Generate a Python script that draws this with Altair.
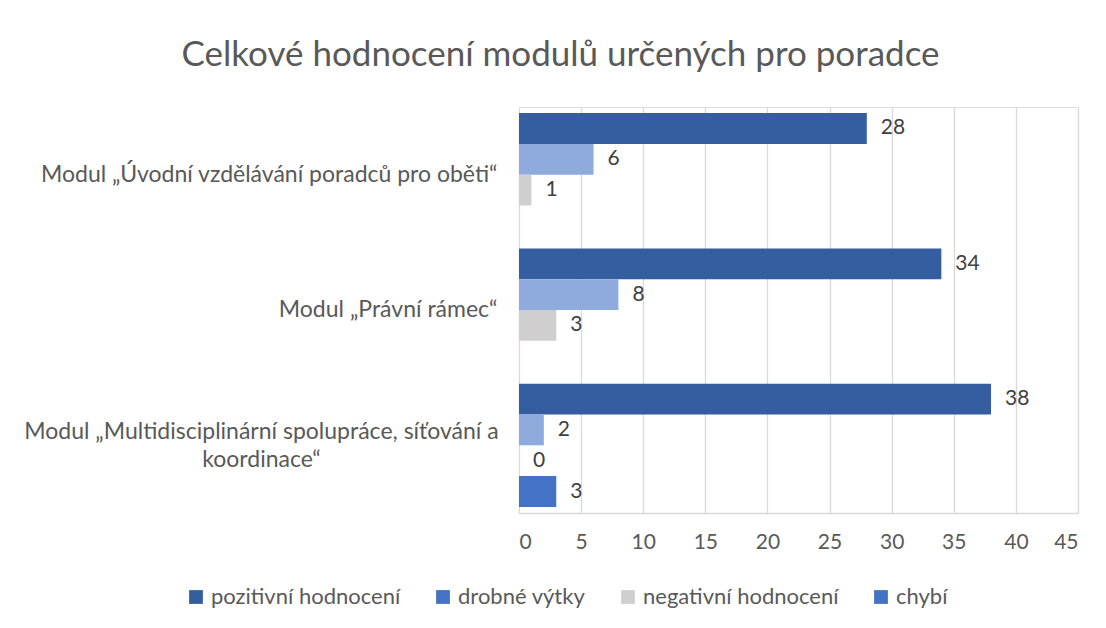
import altair as alt
import pandas as pd

categories = [
    "Modul „Úvodní vzdělávání poradců pro oběti“",
    "Modul „Právní rámec“",
    "Modul „Multidisciplinární spolupráce, síťování a|koordinace“",
]
series = ["pozitivní hodnocení", "drobné výtky", "negativní hodnocení", "chybí"]
pozitivni = [28, 34, 38]
drobne = [6, 8, 2]
negativni = [1, 3, 0]
chybi = [None, None, 3]

bar_colors = ["#355EA0", "#8FAADC", "#D0CECE", "#4472C4"]
legend_colors = ["#355EA0", "#4472C4", "#D0CECE", "#4472C4"]

rows = []
for i, c in enumerate(categories):
    for s, vals in zip(series, [pozitivni, drobne, negativni, chybi]):
        rows.append({"modul": c, "serie": s, "hodnota": vals[i]})
df = pd.DataFrame(rows)

FONT = "Lato"
TXT = "#595959"

wrapped = "indexof(datum.value, '|') >= 0"

y_enc = alt.Y(
    "modul:N",
    sort=categories,
    title=None,
    scale=alt.Scale(paddingInner=0.09, paddingOuter=0.045),
    axis=alt.Axis(
        domain=False,
        ticks=False,
        labelPadding={"condition": {"test": wrapped, "value": 258}, "value": 22},
        labelAlign={"condition": {"test": wrapped, "value": "center"}, "value": "right"},
        labelOffset={"condition": {"test": wrapped, "value": -13}, "value": 0},
        labelFont=FONT,
        labelFontSize=23,
        labelColor=TXT,
        labelLimit=700,
        labelExpr="split(datum.label, '|')",
        labelLineHeight=28,
    ),
)
yoff = alt.YOffset("serie:N", sort=series, scale=alt.Scale(domain=series))
x_enc = alt.X(
    "hodnota:Q",
    title=None,
    scale=alt.Scale(domain=[0, 45], nice=False),
    axis=alt.Axis(
        values=list(range(0, 46, 5)),
        grid=True,
        gridColor="#D9D9D9",
        gridWidth=1.3,
        domain=True,
        domainColor="#D9D9D9",
        domainWidth=1.3,
        ticks=False,
        labelPadding=18,
        labelFont=FONT,
        labelFontSize=21,
        labelColor=TXT,
    ),
)

base = alt.Chart(df).transform_filter("isValid(datum.hodnota)")

bars = base.mark_bar(opacity=1).encode(
    y=y_enc,
    yOffset=yoff,
    x=x_enc,
    color=alt.Color("serie:N", sort=series, scale=alt.Scale(range=bar_colors), legend=None),
)

labels = base.mark_text(align="left", baseline="middle", dx=14, font=FONT, fontSize=21, color="#404040").encode(
    y=alt.Y("modul:N", sort=categories),
    yOffset=yoff,
    x=alt.X("hodnota:Q"),
    text=alt.Text("hodnota:Q"),
)

legend_layer = base.mark_bar(opacity=0).encode(
    y=alt.Y("modul:N", sort=categories),
    yOffset=yoff,
    x=alt.X("hodnota:Q"),
    fill=alt.Fill(
        "serie:N",
        scale=alt.Scale(domain=series, range=legend_colors),
        legend=alt.Legend(
            title=None,
            orient="none",
            direction="horizontal",
            legendX=-334,
            legendY=479,
            symbolType="square",
            symbolSize=190,
            symbolStrokeWidth=0,
            symbolOpacity=1,
            labelFont=FONT,
            labelFontSize=22,
            labelColor=TXT,
            labelLimit=400,
            columnPadding=31,
            labelOffset=4,
        ),
    ),
)

chart = (
    alt.layer(bars, labels, legend_layer)
    .properties(
        width=559,
        height=406,
        autosize=alt.AutoSizeParams(type="none"),
        padding={"left": 511, "top": 99, "right": 20, "bottom": 100},
        title=alt.Title(
            "Celkové hodnocení modulů určených pro poradce",
            font=FONT,
            fontSize=35,
            fontWeight="normal",
            color=TXT,
            anchor="middle",
            offset=34,
            dx=-238,
        ),
    )
    .configure_view(stroke=None)
    .configure(background="white")
)

chart.save("out.html", embed_options={"renderer": "svg", "actions": False})
